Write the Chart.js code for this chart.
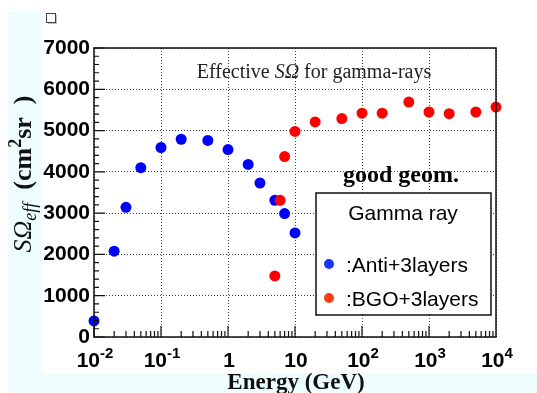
<!DOCTYPE html>
<html>
<head>
<meta charset="utf-8">
<script src="https://cdn.jsdelivr.net/npm/chart.js@4.4.1/dist/chart.umd.min.js"></script>
<style>
  html, body { margin: 0; padding: 0; background: #fff; }
  canvas { display: block; }
</style>
</head>
<body>
<canvas id="chart" width="537" height="393"></canvas>
<script>
// ===== DATA =====
const antiEnergy = [0.01, 0.02, 0.03, 0.05, 0.1, 0.2, 0.5, 1, 2, 3, 5, 7, 10];
const antiSOmega = [390, 2080, 3140, 4100, 4590, 4790, 4760, 4540, 4180, 3730, 3310, 2990, 2520];
const bgoEnergy = [5, 6, 7, 10, 20, 50, 100, 200, 500, 1000, 2000, 5000, 10000];
const bgoSOmega = [1480, 3310, 4370, 4980, 5210, 5290, 5420, 5420, 5690, 5450, 5410, 5450, 5570];
const seriesLabels = [':Anti+3layers', ':BGO+3layers'];
const xTickValues = [1e-2, 1e-1, 1, 10, 1e2, 1e3, 1e4];
const yTickValues = [0, 1000, 2000, 3000, 4000, 5000, 6000, 7000];
const legendHeader = 'Gamma ray';
const noteText = 'good geom.';

const SANS = '"Liberation Sans", Arial, sans-serif';
const SERIF = '"Liberation Serif", "Times New Roman", serif';

// ===== HELPERS =====
// draw a list of text runs {text, font, dy} centred on x (or left aligned)
function drawRuns(ctx, runs, x, y, align) {
    let total = 0;
    runs.forEach(r => { ctx.font = r.font; total += ctx.measureText(r.text).width; });
    let cx = align === 'left' ? x : x - total / 2;
    ctx.textAlign = 'left';
    ctx.textBaseline = 'alphabetic';
    runs.forEach(r => {
        ctx.font = r.font;
        ctx.fillText(r.text, cx, y + (r.dy || 0));
        cx += ctx.measureText(r.text).width;
    });
}

// ===== DECORATION PLUGIN =====
const frameDecor = {
    id: 'frameDecor',
    beforeDraw(chart) {
        const ctx = chart.ctx;
        ctx.save();
        ctx.fillStyle = '#ffffff';
        ctx.fillRect(0, 0, chart.width, chart.height);
        ctx.fillStyle = '#eefefe';
        ctx.fillRect(8, 12, 34, chart.height - 12);
        ctx.fillRect(8, 373, chart.width - 8, chart.height - 373);
        // little box top left
        ctx.fillStyle = '#bbb';
        ctx.fillRect(48, 15, 9, 9);
        ctx.fillStyle = '#fff';
        ctx.fillRect(46.5, 13.5, 9, 9);
        ctx.strokeStyle = '#444';
        ctx.lineWidth = 1;
        ctx.strokeRect(46.5, 13.5, 9, 9);
        ctx.restore();
    },
    afterDraw(chart) {
        const ctx = chart.ctx;
        const area = chart.chartArea;
        const xs = chart.scales.x;
        const ys = chart.scales.y;
        ctx.save();

        // frame
        ctx.strokeStyle = '#111';
        ctx.lineWidth = 1.5;
        ctx.strokeRect(area.left, area.top, area.right - area.left, area.bottom - area.top);

        // y ticks
        ctx.lineWidth = 1.2;
        ctx.beginPath();
        for (let v = 0; v <= 7000; v += 200) {
            const py = ys.getPixelForValue(v);
            const len = v % 1000 === 0 ? 11 : 5;
            ctx.moveTo(area.left, py);
            ctx.lineTo(area.left + len, py);
        }
        // x ticks
        for (let d = -2; d <= 3; d++) {
            for (let k = 1; k <= 9; k++) {
                const px = xs.getPixelForValue(k * Math.pow(10, d));
                const len = k === 1 ? 11 : 6;
                ctx.moveTo(px, area.bottom);
                ctx.lineTo(px, area.bottom - len);
            }
        }
        ctx.stroke();

        // x tick labels with exponents
        ctx.fillStyle = '#000';
        xTickValues.forEach(v => {
            const e = Math.round(Math.log10(v));
            const px = xs.getPixelForValue(v);
            let runs;
            if (e === 0) runs = [{ text: '1', font: 'bold 21px ' + SANS }];
            else if (e === 1) runs = [{ text: '10', font: 'bold 21px ' + SANS }];
            else runs = [
                { text: '10', font: 'bold 21px ' + SANS },
                { text: String(e), font: 'bold 15px ' + SANS, dy: -9 }
            ];
            drawRuns(ctx, runs, px + 1, 367);
        });

        // plot title
        ctx.fillStyle = '#222';
        drawRuns(ctx, [
            { text: 'Effective ', font: '20px ' + SERIF },
            { text: 'S\u03A9', font: 'italic 20px ' + SERIF },
            { text: ' for gamma-rays', font: '20px ' + SERIF }
        ], 314, 78);

        // x axis title
        ctx.fillStyle = '#111';
        drawRuns(ctx, [{ text: 'Energy (GeV)', font: 'bold 23px ' + SERIF }], 296, 389);

        // y axis title (rotated)
        ctx.save();
        ctx.translate(31, 174);
        ctx.rotate(-Math.PI / 2);
        drawRuns(ctx, [
            { text: 'S\u03A9', font: 'italic 26px ' + SERIF },
            { text: 'eff', font: 'italic 18px ' + SERIF, dy: 5 },
            { text: '  (cm', font: 'bold 26px ' + SERIF },
            { text: '2', font: 'bold 18px ' + SERIF, dy: -10 },
            { text: 'sr  )', font: 'bold 26px ' + SERIF }
        ], 0, 0);
        ctx.restore();

        // note
        ctx.fillStyle = '#000';
        drawRuns(ctx, [{ text: noteText, font: 'bold 24px ' + SERIF }], 343, 182, 'left');

        // legend box
        const lx = 316, ly = 193, lw = 175, lh = 122;
        ctx.fillStyle = '#fff';
        ctx.fillRect(lx, ly, lw, lh);
        ctx.strokeStyle = '#111';
        ctx.lineWidth = 1.5;
        ctx.strokeRect(lx, ly, lw, lh);
        ctx.fillStyle = '#000';
        drawRuns(ctx, [{ text: legendHeader, font: '21px ' + SANS }], 403, 220);
        const markColors = ['#1a35ff', '#ff3a14'];
        [264, 298].forEach((yy, i) => {
            ctx.fillStyle = markColors[i];
            ctx.beginPath();
            ctx.arc(329, yy, 5, 0, Math.PI * 2);
            ctx.fill();
            ctx.fillStyle = '#000';
            drawRuns(ctx, [{ text: seriesLabels[i], font: '21px ' + SANS }], 346, yy + 8, 'left');
        });

        ctx.restore();
    }
};

// ===== CHART =====
const ctx = document.getElementById('chart');

new Chart(ctx, {
    type: 'scatter',
    data: {
        datasets: [
            {
                label: seriesLabels[0],
                data: antiEnergy.map((e, i) => ({ x: e, y: antiSOmega[i] })),
                backgroundColor: '#0000ff',
                borderWidth: 0,
                pointRadius: 5.5,
                clip: false,
                order: 1
            },
            {
                label: seriesLabels[1],
                data: bgoEnergy.map((e, i) => ({ x: e, y: bgoSOmega[i] })),
                backgroundColor: '#ff0000',
                borderWidth: 0,
                pointRadius: 5.5,
                clip: false,
                order: 0
            }
        ]
    },
    options: {
        responsive: false,
        animation: false,
        layout: {
            padding: { left: 0, right: 41, top: 48, bottom: 56 }
        },
        plugins: {
            legend: { display: false },
            tooltip: { enabled: false }
        },
        scales: {
            x: {
                type: 'logarithmic',
                min: 1e-2,
                max: 1e4,
                afterBuildTicks: scale => {
                    scale.ticks = xTickValues.map(v => ({ value: v }));
                },
                afterFit: scale => { scale.height = 0; },
                ticks: { display: false },
                border: { display: false, dash: [1, 2] },
                grid: { color: '#444', lineWidth: 1, drawTicks: false }
            },
            y: {
                min: 0,
                max: 7000,
                afterBuildTicks: scale => {
                    scale.ticks = yTickValues.map(v => ({ value: v }));
                },
                afterFit: scale => { scale.width = 94; },
                ticks: {
                    color: '#000',
                    padding: 4,
                    font: { family: SANS, size: 21, weight: 'bold' },
                    callback: value => String(value)
                },
                border: { display: false, dash: [1, 2] },
                grid: { color: '#444', lineWidth: 1, drawTicks: false }
            }
        }
    },
    plugins: [frameDecor]
});
</script>
</body>
</html>
